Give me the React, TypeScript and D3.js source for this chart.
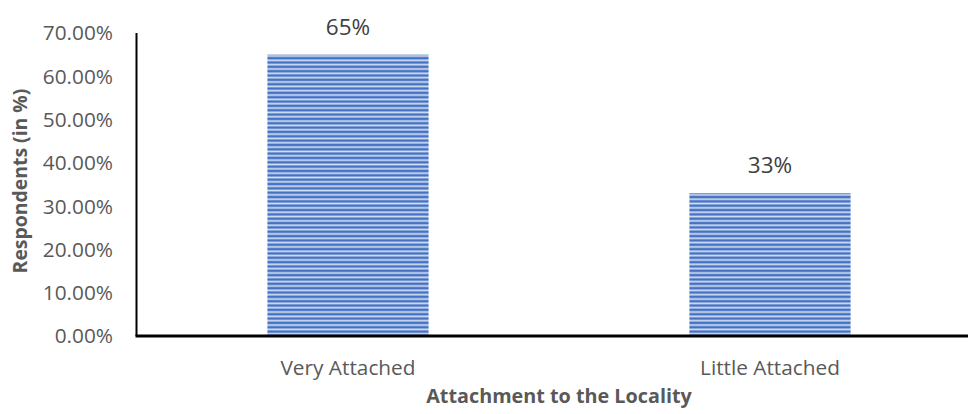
import React from "react";
import * as d3 from "d3";

// Share of respondents by attachment to their locality
const categories = ["Very Attached", "Little Attached"];
const values = [65, 33];
const valueLabels = ["65%", "33%"];
const yTicks = [0, 10, 20, 30, 40, 50, 60, 70];

const W = 968;
const H = 414;
const FONT = "'Open Sans', 'Liberation Sans', sans-serif";

export default function App() {
  const x = d3
    .scaleBand<string>()
    .domain(categories)
    .range([137, 981])
    .paddingInner(0.618)
    .paddingOuter(0.309);
  const y = d3.scaleLinear().domain([0, 70]).range([336, 33]);
  const fmt = (v: number) => d3.format(".2f")(v) + "%";

  return (
    <svg
      width={W}
      height={H}
      style={{ position: "absolute", left: 0, top: 0, background: "#fff" }}
      fontFamily={FONT}
    >
      <defs>
        <pattern id="hstripe" patternUnits="userSpaceOnUse" width={8} height={4.34}>
          <rect x={0} y={0} width={8} height={4.34} fill="#d3def2" />
          <rect x={0} y={0} width={8} height={0.8} fill="#8eaadb" />
          <rect x={0} y={0.8} width={8} height={2.0} fill="#4472c4" />
          <rect x={0} y={2.8} width={8} height={0.6} fill="#7f9fd6" />
        </pattern>
      </defs>

      {/* bars */}
      {categories.map((c, i) => (
        <rect
          key={c}
          x={x(c)!}
          y={y(values[i])}
          width={x.bandwidth()}
          height={y(0) - y(values[i])}
          fill="url(#hstripe)"
        />
      ))}

      {/* value labels */}
      {categories.map((c, i) => (
        <text
          key={c}
          x={x(c)! + x.bandwidth() / 2}
          y={y(values[i]) - 20}
          textAnchor="middle"
          fontSize={22.5}
          fill="#404040"
        >
          {valueLabels[i]}
        </text>
      ))}

      {/* y tick labels */}
      {yTicks.map((t) => (
        <text
          key={t}
          x={113}
          y={y(t)}
          dy="0.36em"
          textAnchor="end"
          fontSize={20.8}
          fill="#595959"
        >
          {fmt(t)}
        </text>
      ))}

      {/* axes */}
      <line x1={136.5} x2={136.5} y1={y(70)} y2={y(0)} stroke="#000" strokeWidth={2} />
      <line x1={135.5} x2={W} y1={y(0)} y2={y(0)} stroke="#000" strokeWidth={3} />

      {/* category labels */}
      {categories.map((c) => (
        <text
          key={c}
          x={x(c)! + x.bandwidth() / 2}
          y={375}
          textAnchor="middle"
          fontSize={20.8}
          fill="#595959"
        >
          {c}
        </text>
      ))}

      {/* axis titles */}
      <text
        x={559}
        y={403}
        textAnchor="middle"
        fontSize={19.8}
        fontWeight="bold"
        fill="#595959"
      >
        Attachment to the Locality
      </text>
      <text
        transform={`translate(27, ${181}) rotate(-90)`}
        textAnchor="middle"
        fontSize={19.4}
        fontWeight="bold"
        fill="#595959"
      >
        Respondents (in %)
      </text>
    </svg>
  );
}
